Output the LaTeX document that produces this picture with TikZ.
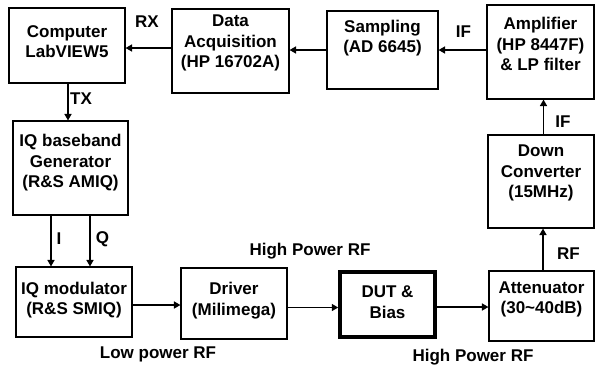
\documentclass[tikz,border=0pt]{standalone}
\usepackage{fontspec}
\setmainfont{Liberation Sans}
\usetikzlibrary{arrows.meta}
\begin{document}
\begin{tikzpicture}[x=1pt,y=-1pt,
  box/.style={draw, line width=1.1pt, inner sep=0pt, minimum width=#1},
  txt/.style={font=\fontsize{17}{20.5}\selectfont\bfseries, align=center, inner sep=0pt},
  lbl/.style={font=\fontsize{17}{20.5}\selectfont\bfseries, inner sep=0pt},
  arr/.style={line width=1.5pt, -{Triangle[length=6.5pt,width=7pt]}}]
\useasboundingbox (0,0) rectangle (595,368);
% boxes
\node[box=116pt, minimum height=75pt] (comp) at (67,45.5) {};
\node[box=117pt, minimum height=84pt] (daq) at (230.5,51) {};
\node[box=111pt, minimum height=78pt] (samp) at (382.5,50) {};
\node[box=107pt, minimum height=94pt] (amp) at (540.5,52) {};
\node[box=106pt, minimum height=93pt] (down) at (541,181.5) {};
\node[box=115pt, minimum height=94pt] (iqgen) at (70.5,168) {};
\node[box=116pt, minimum height=70pt] (iqmod) at (74,302) {};
\node[box=106pt, minimum height=71pt] (drv) at (234,303.5) {};
\node[draw, line width=3.5pt, inner sep=0pt, minimum width=95pt, minimum height=65pt] (dut) at (387.5,304.5) {};
\node[box=105pt, minimum height=70pt] (att) at (541.5,306) {};
% box texts
\node[txt] (tcomp) at (67,41.5) {Computer\\LabVIEW5};
\node[txt] (tdaq) at (230.5,43) {Data\\Acquisition\\(HP 16702A)};
\node[txt] (tsamp) at (382.5,38) {Sampling\\(AD 6645)};
\node[txt] (tamp) at (540.5,44) {Amplifier\\(HP 8447F)\\\& LP filter};
\node[txt] (tdown) at (541,173) {Down\\Converter\\(15MHz)};
\node[txt] (tiqgen) at (70.5,163) {IQ baseband\\Generator\\(R\&S AMIQ)};
\node[txt] (tiqmod) at (74,300) {IQ modulator\\(R\&S SMIQ)};
\node[txt] (tdrv) at (234,300.5) {Driver\\(Milimega)};
\node[txt] (tdut) at (387.5,302) {DUT \&\\Bias};
\node[txt] (tatt) at (541.5,299.5) {Attenuator\\(30\textasciitilde40dB)};
% connectors
\draw[arr] ([yshift=3pt]daq.west) -- ([yshift=3pt]daq.west -| comp.east);
\draw[arr] (samp.west) -- (samp.west -| daq.east);
\draw[arr] ([yshift=2pt]amp.west) -- ([yshift=2pt]amp.west -| samp.east);
\draw[arr] ([xshift=2.5pt]down.north) -- ([xshift=2.5pt]down.north |- amp.south);
\draw[arr] ([xshift=1.5pt]att.north) -- ([xshift=1.5pt]att.north |- down.south);
\draw[arr] ([xshift=1pt]comp.south) -- ([xshift=1pt]comp.south |- iqgen.north);
\draw[arr] ([xshift=-19.5pt]iqgen.south) -- ([xshift=-19.5pt]iqgen.south |- iqmod.north);
\draw[arr] ([xshift=19.5pt]iqgen.south) -- ([xshift=19.5pt]iqgen.south |- iqmod.north);
\draw[arr] ([yshift=-3pt]iqmod.east) -- ([yshift=-3pt]iqmod.east -| drv.west);
\draw[arr] ([yshift=-3pt]dut.west -| drv.east) -- ([yshift=-3pt]dut.west);
\draw[arr] ([yshift=-2.5pt]dut.east) -- ([yshift=-2.5pt]dut.east -| att.west);
% labels
\node[lbl] (rx) at (147,22) {RX};
\node[lbl] (tx) at (81,99) {TX};
\node[lbl] (if1) at (463.5,31.5) {IF};
\node[lbl] (if2) at (563,122) {IF};
\node[lbl] (rf) at (568.5,253.5) {RF};
\node[lbl] (li) at (59,239) {I};
\node[lbl] (lq) at (102.5,239) {Q};
\node[lbl] (hp1) at (310,251) {High Power RF};
\node[lbl] (lp) at (158,354) {Low power RF};
\node[lbl] (hp2) at (473,357) {High Power RF};
\end{tikzpicture}
\end{document}
